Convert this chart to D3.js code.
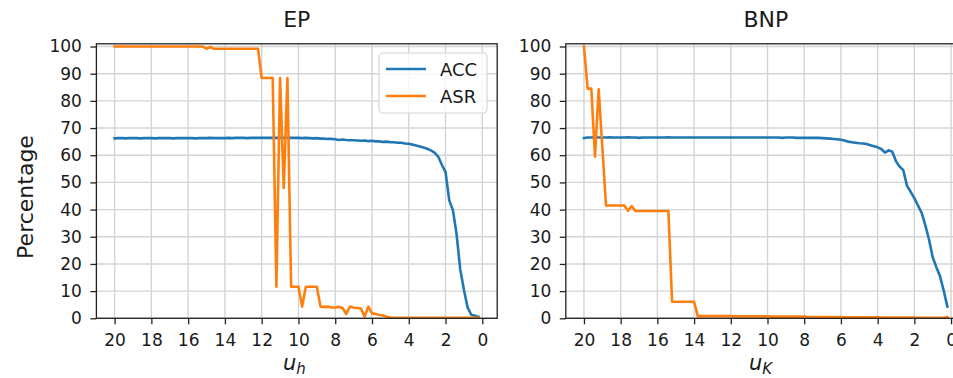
<!DOCTYPE html>
<html><head><meta charset="utf-8">
<script src="https://cdn.jsdelivr.net/npm/d3@7"></script>
<style>
html,body{margin:0;padding:0;background:#fff;}
svg{display:block;font-family:"DejaVu Sans",sans-serif;}
</style></head><body>
<svg id="chart" width="953" height="378"></svg>
<script>
// Threshold values u, swept from 20 down to 0.2
const uGrid = [20,19.8,19.6,19.4,19.2,19,18.8,18.6,18.4,18.2,18,17.8,17.6,17.4,17.2,17,16.8,16.6,16.4,16.2,
  16,15.8,15.6,15.4,15.2,15,14.8,14.6,14.4,14.2,14,13.8,13.6,13.4,13.2,13,12.8,12.6,12.4,12.2,
  12,11.8,11.6,11.4,11.2,11,10.8,10.6,10.4,10.2,10,9.8,9.6,9.4,9.2,9,8.8,8.6,8.4,8.2,
  8,7.8,7.6,7.4,7.2,7,6.8,6.6,6.4,6.2,6,5.8,5.6,5.4,5.2,5,4.8,4.6,4.4,4.2,
  4,3.8,3.6,3.4,3.2,3,2.8,2.6,2.4,2.2,2,1.8,1.6,1.4,1.2,1,0.8,0.6,0.4,0.2];

// EP pruning: clean accuracy and attack success rate (%)
const epAcc = [66.2,66.3,66.3,66.2,66.3,66.3,66.3,66.2,66.3,66.3,
  66.3,66.2,66.3,66.3,66.3,66.3,66.2,66.3,66.3,66.3,
  66.3,66.3,66.2,66.3,66.3,66.3,66.4,66.3,66.3,66.3,
  66.3,66.4,66.3,66.4,66.4,66.4,66.3,66.4,66.4,66.4,
  66.4,66.4,66.4,66.4,66.4,66.4,66.4,66.4,66.4,66.4,
  66.4,66.3,66.4,66.3,66.2,66.3,66.1,66.1,66.0,66.0,
  65.9,65.6,65.8,65.6,65.5,65.5,65.4,65.3,65.4,65.2,
  65.3,65.1,65.1,64.9,65.0,64.8,64.8,64.6,64.6,64.3,
  64.2,63.9,63.6,63.2,62.8,62.4,61.8,61.0,59.5,56.5,
  53.8,43.5,39.8,31.0,18.0,10.5,4.0,1.3,0.9,0.5];
const epAsr = [100,100,100,100,100,100,100,100,100,100,
  100,100,100,100,100,100,100,100,100,100,
  100,100,100,100,100,99.2,99.8,99.2,99.2,99.2,
  99.2,99.2,99.2,99.2,99.2,99.2,99.2,99.2,99.2,99.2,
  88.4,88.4,88.4,88.4,11.6,88.4,48.0,88.4,11.6,11.6,
  11.6,4.3,11.6,11.6,11.6,11.6,4.3,4.2,4.3,4.0,
  4.0,4.2,3.8,1.6,4.3,4.0,3.8,3.6,0.6,4.3,
  1.8,1.6,1.2,1.0,0.6,0.3,0.2,0.2,0.2,0.2,
  0.2,0.2,0.2,0.2,0.2,0.2,0.2,0.2,0.2,0.2,
  0.2,0.2,0.2,0.2,0.2,0.2,0.2,0.2,0.2,0.2];

// BNP pruning: clean accuracy and attack success rate (%)
const bnpAcc = [66.3,66.5,66.5,66.6,66.5,66.5,66.5,66.6,66.5,66.5,
  66.5,66.5,66.6,66.5,66.5,66.4,66.5,66.5,66.5,66.5,
  66.5,66.5,66.5,66.6,66.5,66.5,66.5,66.5,66.5,66.5,
  66.5,66.5,66.5,66.5,66.5,66.5,66.5,66.5,66.5,66.5,
  66.5,66.5,66.5,66.5,66.5,66.5,66.5,66.5,66.5,66.5,
  66.5,66.5,66.5,66.5,66.4,66.5,66.5,66.5,66.4,66.4,
  66.4,66.4,66.4,66.4,66.4,66.3,66.2,66.1,66.0,65.9,
  65.7,65.4,65.0,64.8,64.6,64.4,64.3,64.1,63.7,63.3,
  62.9,62.3,61.0,61.8,61.3,57.8,55.8,54.5,48.8,46.5,
  44.2,41.5,38.8,34.2,29.0,22.5,18.8,15.5,10.2,4.3];
const bnpAsr = [100,84.5,84.5,59.5,84.3,63.0,41.5,41.5,41.5,41.5,
  41.5,41.5,39.6,41.3,39.5,39.5,39.5,39.5,39.5,39.5,
  39.5,39.5,39.5,39.5,6.1,6.1,6.1,6.1,6.1,6.1,
  6.1,0.8,0.8,0.8,0.8,0.8,0.8,0.8,0.8,0.8,
  0.8,0.7,0.7,0.7,0.7,0.7,0.7,0.7,0.7,0.7,
  0.7,0.6,0.6,0.6,0.6,0.6,0.6,0.6,0.6,0.6,
  0.6,0.5,0.5,0.5,0.5,0.5,0.5,0.5,0.5,0.5,
  0.5,0.4,0.4,0.4,0.4,0.4,0.4,0.4,0.4,0.4,
  0.4,0.3,0.3,0.3,0.3,0.3,0.3,0.3,0.3,0.3,
  0.3,0.2,0.2,0.2,0.2,0.2,0.2,0.2,0.2,0.5];

const xTicks = [20,18,16,14,12,10,8,6,4,2,0];
const yTicks = [0,10,20,30,40,50,60,70,80,90,100];
const seriesNames = ["ACC","ASR"];
const seriesColors = ["#1f77b4","#ff7f0e"];

const svg = d3.select("#chart");
const plotTop = 43.8, plotBottom = 318.3;
const y = d3.scaleLinear().domain([0, 101]).range([plotBottom, plotTop]);

const panels = [
  {title: "EP",  sub: "h", series: [epAcc, epAsr],   x0: 96.4,  x1: 497.2, labelX: 283, legend: true},
  {title: "BNP", sub: "K", series: [bnpAcc, bnpAsr], x0: 565.8, x1: 965.9, labelX: 749, legend: false}
];

panels.forEach(p => {
  const x = d3.scaleLinear().domain([20.99, -0.81]).range([p.x0, p.x1]);
  const g = svg.append("g");

  // grid
  g.append("g").selectAll("line").data(xTicks).join("line")
    .attr("x1", d => x(d)).attr("x2", d => x(d))
    .attr("y1", plotTop).attr("y2", plotBottom)
    .attr("stroke", "#d4d4d4").attr("stroke-width", 1.4);
  g.append("g").selectAll("line").data(yTicks).join("line")
    .attr("x1", p.x0).attr("x2", p.x1)
    .attr("y1", d => y(d)).attr("y2", d => y(d))
    .attr("stroke", "#d4d4d4").attr("stroke-width", 1.4);

  // curves
  const line = d3.line().x((d, i) => x(uGrid[i])).y(d => y(d));
  p.series.forEach((vals, k) => {
    g.append("path").datum(vals)
      .attr("d", line)
      .attr("fill", "none")
      .attr("stroke", seriesColors[k])
      .attr("stroke-width", 2.6)
      .attr("stroke-linejoin", "round")
      .attr("stroke-linecap", "square");
  });

  // axes
  const xAxis = d3.axisBottom(x).tickValues(xTicks).tickFormat(d3.format("d"))
    .tickSize(6).tickPadding(10).tickSizeOuter(0);
  const yAxis = d3.axisLeft(y).tickValues(yTicks).tickFormat(d3.format("d"))
    .tickSize(6).tickPadding(8.5).tickSizeOuter(0);
  const gx = g.append("g").attr("transform", `translate(0,${plotBottom})`).call(xAxis);
  const gy = g.append("g").attr("transform", `translate(${p.x0},0)`).call(yAxis);
  [gx, gy].forEach(a => {
    a.select(".domain").remove();
    a.selectAll(".tick line").attr("stroke", "#222").attr("stroke-width", 1.3);
    a.selectAll(".tick text").attr("fill", "#1a1a1a")
      .style("font-family", "DejaVu Sans").style("font-size", "17px");
  });

  // frame
  g.append("rect")
    .attr("x", p.x0).attr("y", plotTop)
    .attr("width", p.x1 - p.x0).attr("height", plotBottom - plotTop)
    .attr("fill", "none").attr("stroke", "#222").attr("stroke-width", 1.3);

  // title
  g.append("text")
    .attr("x", (p.x0 + p.x1) / 2).attr("y", 27)
    .attr("text-anchor", "middle")
    .style("font-size", "22px").attr("fill", "#1a1a1a")
    .text(p.title);

  // x label u with subscript
  const lab = g.append("text")
    .attr("x", p.labelX).attr("y", 370)
    .style("font-size", "21px").style("font-style", "italic").attr("fill", "#1a1a1a");
  lab.append("tspan").text("u");
  lab.append("tspan").attr("dy", 4).style("font-size", "15px").text(p.sub);

  if (p.legend) {
    const lg = g.append("g");
    lg.append("rect")
      .attr("x", 379).attr("y", 53).attr("width", 108).attr("height", 60)
      .attr("rx", 4)
      .attr("fill", "#fff").attr("fill-opacity", 0.8)
      .attr("stroke", "#d6d6d6").attr("stroke-width", 1.2);
    seriesNames.forEach((name, k) => {
      const yy = 69 + k * 27;
      lg.append("line")
        .attr("x1", 386).attr("x2", 426).attr("y1", yy).attr("y2", yy)
        .attr("stroke", seriesColors[k]).attr("stroke-width", 2.6);
      lg.append("text")
        .attr("x", 440).attr("y", yy + 6.5)
        .style("font-size", "18px").attr("fill", "#1a1a1a")
        .text(name);
    });
  }
});

// shared y label
svg.append("text")
  .attr("transform", "translate(33,197) rotate(-90)")
  .attr("text-anchor", "middle")
  .style("font-size", "22px").attr("fill", "#1a1a1a")
  .text("Percentage");
</script>
</body></html>
